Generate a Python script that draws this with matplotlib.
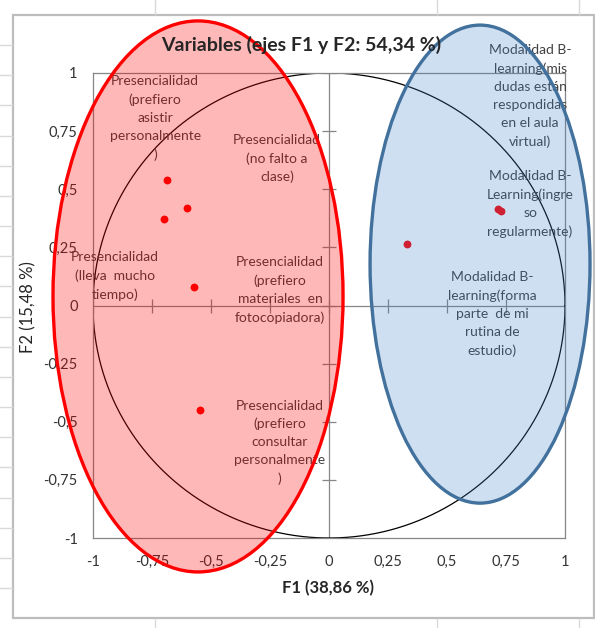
import numpy as np
import matplotlib
matplotlib.use("Agg")
import matplotlib.pyplot as plt
from matplotlib.patches import Ellipse, Rectangle
from matplotlib.lines import Line2D

plt.rcParams['font.family'] = ['Lato', 'DejaVu Sans']

# variable coordinates on F1 / F2
f1 = [-0.686, -0.60, -0.70, -0.57, -0.546, 0.33, 0.716, 0.73]
f2 = [0.54, 0.42, 0.37, 0.08, -0.45, 0.265, 0.415, 0.405]
labels = [
    "Presencialidad\n(prefiero\nasistir\npersonalmente\n)",
    "Presencialidad\n(no falto a\nclase)",
    "Presencialidad\n(lleva  mucho\ntiempo)",
    "Presencialidad\n(prefiero\nmateriales  en\nfotocopiadora)",
    "Presencialidad\n(prefiero\nconsultar\npersonalmente\n)",
    "Modalidad B-\nlearning(mis\ndudas están\nrespondidas\nen el aula\nvirtual)",
    "Modalidad B-\nLearning(ingre\nso\nregularmente)",
    "Modalidad B-\nlearning(forma\nparte  de mi\nrutina de\nestudio)",
]
ticks = [-1, -0.75, -0.5, -0.25, 0, 0.25, 0.5, 0.75, 1]
tick_text = ["-1", "-0,75", "-0,5", "-0,25", "0", "0,25", "0,5", "0,75", "1"]

# where the data labels sit (centre of the text block)
label_xy = [(-0.737, 0.806), (-0.22, 0.632), (-0.907, 0.127), (-0.208, 0.067),
            (-0.208, -0.589), (0.852, 0.901), (0.852, 0.437), (0.691, -0.037)]

W, H = 595, 628
fig = plt.figure(figsize=(W / 100, H / 100), dpi=100)
ax = fig.add_axes([93 / W, 1 - 538 / H, 472 / W, 465 / H])
ax.set_xlim(-1, 1)
ax.set_ylim(-1, 1)

# outer chart frame + spreadsheet grid stubs
fig.patches.append(Rectangle((13 / W, 1 - 618 / H), 581 / W, 603 / H, transform=fig.transFigure,
                             fill=False, edgecolor="#bdbdbd", lw=1.6))
for gx in [155, 437, 579]:
    fig.add_artist(Line2D([gx / W, gx / W], [1, 1 - 14 / H], color="#d9d9d9", lw=1, transform=fig.transFigure))
    fig.add_artist(Line2D([gx / W, gx / W], [0, 1 - 619 / H], color="#d9d9d9", lw=1, transform=fig.transFigure))
for gy in np.linspace(45, 588, 19):
    fig.add_artist(Line2D([0, 12 / W], [1 - gy / H, 1 - gy / H], color="#d9d9d9", lw=1, transform=fig.transFigure))

for s in ax.spines.values():
    s.set_color("#868686")
    s.set_linewidth(0.9)
ax.set_xticks(ticks)
ax.set_xticklabels(tick_text)
ax.set_yticks(ticks)
ax.set_yticklabels(tick_text)
ax.tick_params(length=0, labelsize=10.5, labelcolor="#333333")
ax.tick_params(axis="x", pad=12)
ax.tick_params(axis="y", pad=11)

# axes through origin with cross ticks
ax.axhline(0, color="#868686", lw=0.9)
ax.axvline(0, color="#868686", lw=0.9)
ax.plot(ticks, [0] * len(ticks), ls="none", marker="|", ms=10, mew=0.9, color="#868686")
ax.plot([0] * len(ticks), ticks, ls="none", marker="_", ms=10, mew=0.9, color="#868686")

t = np.linspace(0, 2 * np.pi, 400)
ax.plot(np.cos(t), np.sin(t), color="black", lw=0.9)

ax.scatter(f1, f2, s=32, color="#ff0000", zorder=3, linewidths=0)
for lab, (lx, ly) in zip(labels, label_xy):
    ax.text(lx, ly, lab, ha="center", va="center", fontsize=10, color="#404040",
            linespacing=1.6, multialignment="center")

# grouping ellipses
ax.add_patch(Ellipse((-0.555, 0.039), 1.229, 2.37, facecolor=(1, 0, 0, 0.28),
                     edgecolor="#ff0000", lw=2.4, zorder=5, clip_on=False))
ax.add_patch(Ellipse((0.64, 0.178), 0.932, 2.056, facecolor=(0.26, 0.51, 0.80, 0.25),
                     edgecolor="#41719c", lw=2.4, zorder=5, clip_on=False))

fig.text(301 / W, 1 - 45 / H, "Variables (ejes F1 y F2: 54,34 %)", ha="center", va="center",
         fontsize=14, fontweight="bold", color="#262626")
fig.text(328 / W, 1 - 588 / H, "F1 (38,86 %)", ha="center", va="center",
         fontsize=12, fontweight="bold", color="#262626")
fig.text(28 / W, 1 - 307 / H, "F2 (15,48 %)", ha="center", va="center", rotation=90,
         fontsize=12, color="#262626")

fig.savefig("out.png", dpi=100)
